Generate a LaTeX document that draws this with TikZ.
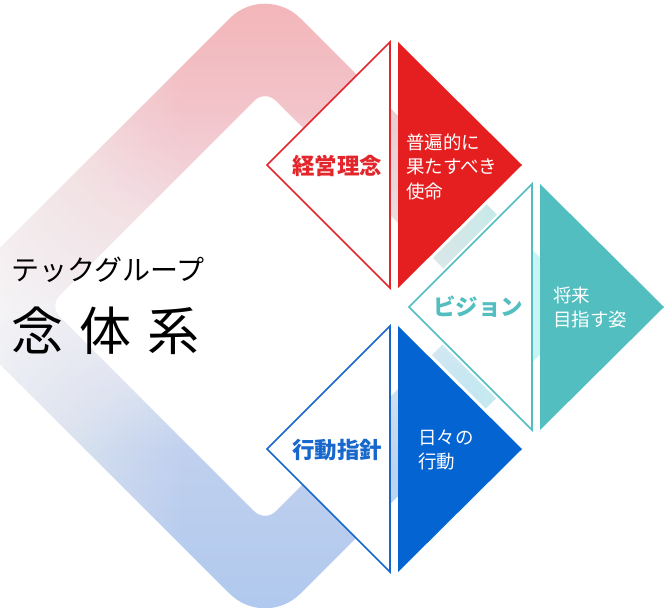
\documentclass[tikz,border=0pt]{standalone}
\usepackage{fontspec}
\setmainfont{Noto Sans CJK JP}
\definecolor{redc}{HTML}{E51F20}
\definecolor{redt}{HTML}{E3262B}
\definecolor{tealc}{HTML}{52BEC0}
\definecolor{bluec}{HTML}{0464D2}
\definecolor{bluet}{HTML}{1767CC}
\definecolor{rc0}{HTML}{F3B3B6}
\definecolor{rc1}{HTML}{F2C4CA}
\definecolor{rc2}{HTML}{F2EEF4}
\definecolor{rc3}{HTML}{C0D0EE}
\definecolor{rc4}{HTML}{AEC8EE}
\definecolor{rcyan}{HTML}{C6F5F3}
\tikzset{
  outl/.style={draw=#1, line width=1.6pt, fill=white, line join=miter},
  solid/.style={fill=#1},
  halo/.style={draw=white, line width=6pt},
  lab/.style={font=\fontsize{22.5}{22.5}\selectfont\bfseries, text=#1, inner sep=0pt},
  sub/.style={font=\fontsize{18.5}{24.5}\selectfont, text=white, align=left, anchor=west, inner sep=0pt},
}
\begin{document}
\begin{tikzpicture}[x=1pt,y=-1pt]
\useasboundingbox (0,0) rectangle (668,607);
\clip (0,0) rectangle (668,607);
% ring
\begin{scope}[even odd rule]
\clip [rounded corners=50pt] (426.5,144.5) -- (588,306) -- (265,629) -- (-58,306) -- (265,-17) -- cycle
  [rounded corners=15pt] (373,198) -- (481,306) -- (265,522) -- (49,306) -- (265,90) -- cycle;
\shade[top color=rc0, bottom color=rc1] (-60,-20) rectangle (600,110.5);
\shade[top color=rc1, bottom color=rc2] (-60,110) rectangle (600,306.5);
\shade[top color=rc2, bottom color=rc3] (-60,306) rectangle (600,450.5);
\shade[top color=rc3, bottom color=rc4] (-60,450) rectangle (600,632);
\foreach \j in {1,...,30} {
  \pgfmathsetmacro\op{1/\j}
  \fill[white, fill opacity=\op] (-60,-20) rectangle ({-60+\j*8},632);
}
\foreach \j in {1,...,20} {
  \pgfmathsetmacro\op{1/\j}
  \fill[rcyan, fill opacity=\op] ({525-\j*8},-20) rectangle (600,632);
}
\end{scope}
% halos
\draw[halo] (398,42) -- (522,165) -- (398,288);
\draw[halo] (532,184) -- (409,307) -- (532,430);
\draw[halo] (540,184) -- (664,307) -- (540,430);
\draw[halo] (398,326) -- (522,449) -- (398,572);
% pair 1
\path[outl=redt] (390,42) -- (267,165) -- (390,288) -- cycle;
\path[solid=redc] (398,42) -- (522,165) -- (398,288) -- cycle;
% pair 2
\path[outl=tealc] (532,184) -- (409,307) -- (532,430) -- cycle;
\path[solid=tealc] (540,184) -- (664,307) -- (540,430) -- cycle;
% pair 3
\path[outl=bluet] (390,326) -- (267,449) -- (390,572) -- cycle;
\path[solid=bluec] (398,326) -- (522,449) -- (398,572) -- cycle;
% labels
\node[lab=redt] (l1) at (337,166) {経営理念};
\node[sub] (s1) at (406,166.5) {普遍的に\\果たすべき\\使命};
\node[lab=tealc] (l2) at (478,307) {ビジョン};
\node[sub] (s2) at (553,307.5) {将来\\目指す姿};
\node[lab=bluet] (l3) at (337,450) {行動指針};
\node[sub] (s3) at (418,450) {日々の\\行動};
% title
\node[anchor=east, inner sep=0pt, font=\fontsize{28}{28}\selectfont] (t1) at (205,270) {テックグループ};
\node[anchor=west, inner sep=0pt, font=\fontsize{52}{52}\selectfont] (t2) at (11,331) {念\hspace{16pt}体\hspace{16pt}系};
\end{tikzpicture}
\end{document}
